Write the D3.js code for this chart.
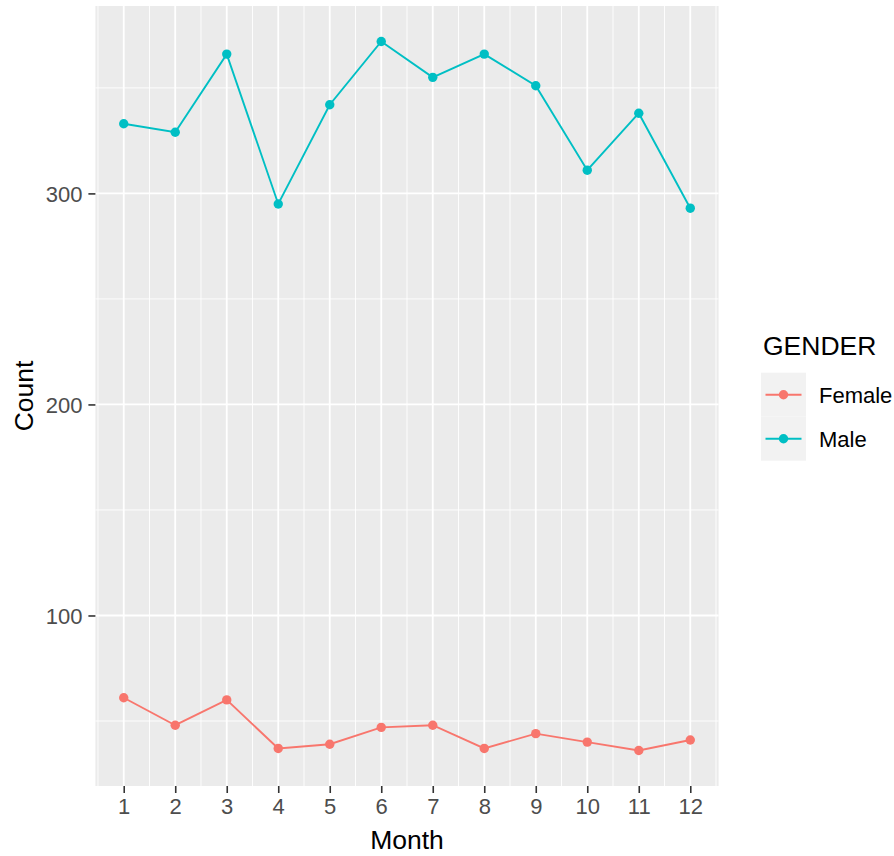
<!DOCTYPE html>
<html>
<head>
<meta charset="utf-8">
<script src="https://cdn.jsdelivr.net/npm/d3@7"></script>
<style>
  body { margin: 0; background: #fff; }
  text { font-family: "Liberation Sans", Arial, sans-serif; }
</style>
</head>
<body>
<div id="chart"></div>
<script>
// data
var months = [1, 2, 3, 4, 5, 6, 7, 8, 9, 10, 11, 12];
var femaleCounts = [61, 48, 60, 37, 39, 47, 48, 37, 44, 40, 36, 41];
var maleCounts = [333, 329, 366, 295, 342, 372, 355, 366, 351, 311, 338, 293];
var genders = ["Female", "Male"];
var genderColors = ["#F8766D", "#00BFC4"];
var yTicks = [100, 200, 300];

var width = 894, height = 856;
var panel = {left: 95.4, right: 718.6, top: 6, bottom: 786};

var svg = d3.select("#chart").append("svg")
    .attr("width", width).attr("height", height);

// ggplot style 5% expansion
var xr = d3.extent(months), xpad = (xr[1] - xr[0]) * 0.05;
var allY = femaleCounts.concat(maleCounts);
var yr = d3.extent(allY), ypad = (yr[1] - yr[0]) * 0.05;

var x = d3.scaleLinear().domain([xr[0] - xpad, xr[1] + xpad]).range([panel.left, panel.right]);
var y = d3.scaleLinear().domain([yr[0] - ypad, yr[1] + ypad]).range([panel.bottom, panel.top]);

var color = d3.scaleOrdinal().domain(genders).range(genderColors);

svg.append("rect")
    .attr("x", panel.left).attr("y", panel.top)
    .attr("width", panel.right - panel.left).attr("height", panel.bottom - panel.top)
    .attr("fill", "#EBEBEB");

// minor grid
var xMinor = months.map(d => d - 0.5).concat([12.5]);
var yMinor = [50, 150, 250, 350];
var grid = svg.append("g");
grid.selectAll(".xminor").data(xMinor).join("line")
    .attr("x1", d => x(d)).attr("x2", d => x(d))
    .attr("y1", panel.top).attr("y2", panel.bottom)
    .attr("stroke", "#fff").attr("stroke-width", 0.9);
grid.selectAll(".yminor").data(yMinor).join("line")
    .attr("y1", d => y(d)).attr("y2", d => y(d))
    .attr("x1", panel.left).attr("x2", panel.right)
    .attr("stroke", "#fff").attr("stroke-width", 0.9);
// major grid
grid.selectAll(".xmajor").data(months).join("line")
    .attr("x1", d => x(d)).attr("x2", d => x(d))
    .attr("y1", panel.top).attr("y2", panel.bottom)
    .attr("stroke", "#fff").attr("stroke-width", 1.8);
grid.selectAll(".ymajor").data(yTicks).join("line")
    .attr("y1", d => y(d)).attr("y2", d => y(d))
    .attr("x1", panel.left).attr("x2", panel.right)
    .attr("stroke", "#fff").attr("stroke-width", 1.8);

// axes
var xAxis = svg.append("g")
    .attr("transform", `translate(0,${panel.bottom})`)
    .call(d3.axisBottom(x).tickValues(months).tickSize(7).tickPadding(6).tickFormat(d3.format("d")));
var yAxis = svg.append("g")
    .attr("transform", `translate(${panel.left},0)`)
    .call(d3.axisLeft(y).tickValues(yTicks).tickSize(7).tickPadding(6));
[xAxis, yAxis].forEach(a => {
  a.select(".domain").remove();
  a.selectAll(".tick line").attr("stroke", "#333").attr("stroke-width", 1.6);
  a.selectAll(".tick text").attr("fill", "#4D4D4D").style("font-size", "22px")
    .style("font-family", "'Liberation Sans', Arial, sans-serif");
});
yAxis.selectAll(".tick text").attr("dy", "0.36em");
xAxis.selectAll(".tick text").attr("dy", "0.7em");

svg.append("text")
    .attr("x", (panel.left + panel.right) / 2).attr("y", 849)
    .attr("text-anchor", "middle").style("font-size", "26.5px").attr("fill", "#000")
    .text("Month");
svg.append("text")
    .attr("transform", `translate(33,${(panel.top + panel.bottom) / 2}) rotate(-90)`)
    .attr("text-anchor", "middle").style("font-size", "26.5px").attr("fill", "#000")
    .text("Count");

// lines + points
var series = [
  {name: "Female", values: femaleCounts},
  {name: "Male", values: maleCounts}
];
var line = d3.line().x((d, i) => x(months[i])).y(d => y(d));

var sg = svg.append("g").selectAll("g").data(series).join("g");
sg.append("path")
    .attr("d", d => line(d.values))
    .attr("fill", "none")
    .attr("stroke", d => color(d.name))
    .attr("stroke-width", 1.9);
sg.selectAll("circle").data(d => d.values.map((v, i) => ({name: d.name, m: months[i], v: v})))
  .join("circle")
    .attr("cx", d => x(d.m)).attr("cy", d => y(d.v))
    .attr("r", 4.7)
    .attr("fill", d => color(d.name));

// legend
var lg = svg.append("g").attr("transform", "translate(761,0)");
lg.append("text").attr("x", 2).attr("y", 355)
    .style("font-size", "26.5px").attr("fill", "#000").text("GENDER");
var keys = lg.selectAll(".key").data(genders).join("g")
    .attr("transform", (d, i) => `translate(0,${372.7 + i * 44})`);
keys.append("rect").attr("width", 45).attr("height", 44).attr("fill", "#F2F2F2");
keys.append("line").attr("x1", 4.5).attr("x2", 40.5).attr("y1", 22).attr("y2", 22)
    .attr("stroke", d => color(d)).attr("stroke-width", 1.9);
keys.append("circle").attr("cx", 22.5).attr("cy", 22).attr("r", 4.7).attr("fill", d => color(d));
keys.append("text").attr("x", 58).attr("y", 22).attr("dy", "0.36em")
    .style("font-size", "22px").attr("fill", "#000").text(d => d);
</script>
</body>
</html>
